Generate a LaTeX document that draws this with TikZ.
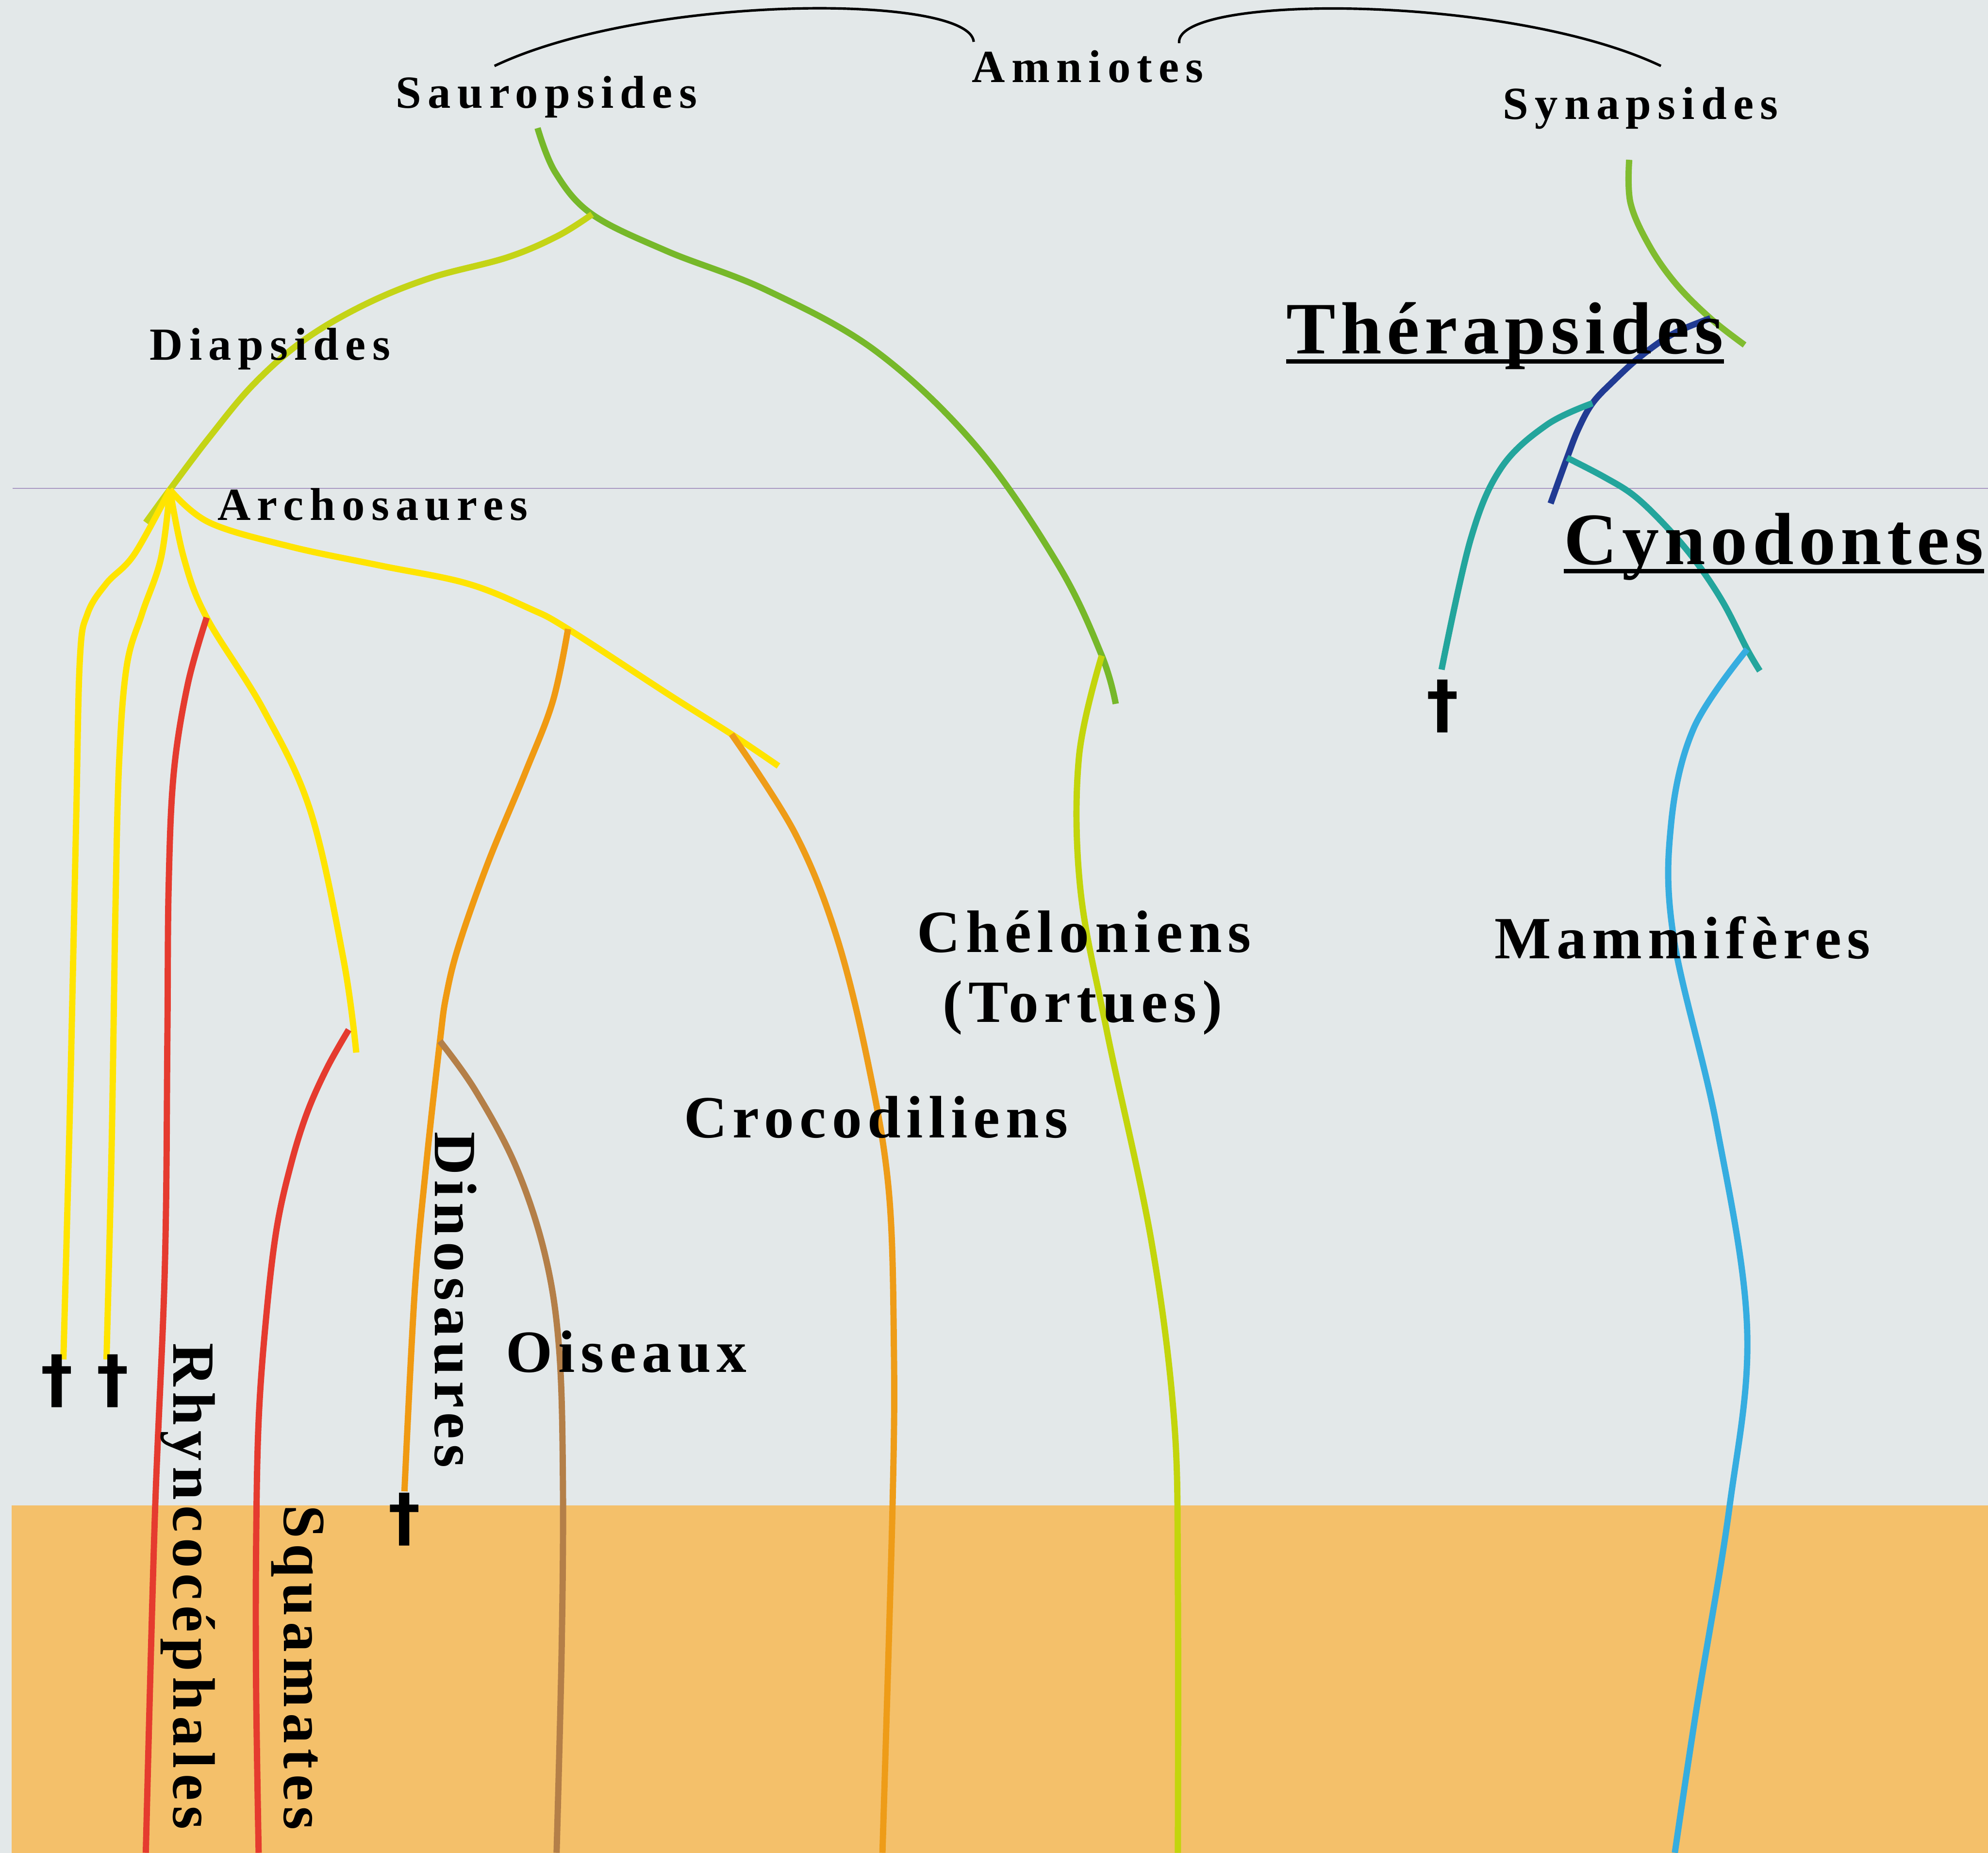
\documentclass[tikz,border=0pt]{standalone}
\usepackage{fontspec}
\setmainfont{Liberation Serif}
\newfontfamily\cladefont[LetterSpace = 14]{Liberation Serif}
\newfontfamily\groupfont[LetterSpace = 9.5]{Liberation Serif}
\newfontfamily\bigcladefont[LetterSpace = 7]{Liberation Serif}
\newfontfamily\crossfont{DejaVu Sans}

\definecolor{paper}{HTML}{E3E8E9}
\definecolor{band}{HTML}{F4C06A}
\definecolor{rule}{HTML}{A998C2}
\definecolor{sauroGreen}{HTML}{76B82A}
\definecolor{diapGreen}{HTML}{C4D416}
\definecolor{archYellow}{HTML}{FFE400}
\definecolor{rhyRed}{HTML}{E53B2F}
\definecolor{dinoOrange}{HTML}{F09A12}
\definecolor{birdBrown}{HTML}{B47F48}
\definecolor{crocOrange}{HTML}{EE9C18}
\definecolor{cheloGreen}{HTML}{C3D50C}
\definecolor{synGreen}{HTML}{80BC30}
\definecolor{theraNavy}{HTML}{213B93}
\definecolor{cynoTeal}{HTML}{23A59C}
\definecolor{mammBlue}{HTML}{36ADE0}

\tikzset{
    lineage/.style = {line width = 4.5pt, smooth, tension = 0.6},
    clade/.style = {font = \cladefont\bfseries\fontsize{33}{40}\selectfont, inner sep = 0pt, anchor = base},
    group/.style = {font = \groupfont\bfseries\fontsize{43}{50}\selectfont, inner sep = 0pt, anchor = base},
    bigclade/.style = {font = \bigcladefont\bfseries\fontsize{53}{60}\selectfont, inner sep = 0pt, anchor = base},
    extinct/.style = {font = \crossfont\bfseries\fontsize{46}{54}\selectfont, inner sep = 0pt},
    underbar/.style = {line width = 3.1pt},
    bracket/.style = {line width = 1.8pt}
}

\begin{document}
\begin{tikzpicture}[x = 0.032cm, y = -0.032cm]
    \useasboundingbox (0, 0) rectangle (1568, 1461);
    \fill [paper] (0, 0) rectangle (1568, 1461);
    \fill [band] (9, 1187) rectangle (1568, 1461);
    \draw [rule, line width = 0.8pt] (10, 385) -- (1568, 385);

    % branch points
    \coordinate (sau) at (424, 101);
    \coordinate (dia) at (467, 169);
    \coordinate (che) at (869, 517);
    \coordinate (arc) at (134, 386);
    \coordinate (rhy) at (163, 487);
    \coordinate (squ) at (275, 812);
    \coordinate (din) at (448, 496);
    \coordinate (cro) at (577, 579);
    \coordinate (ois) at (347, 821);
    \coordinate (syn) at (1285, 126);
    \coordinate (the) at (1349, 251);
    \coordinate (tle) at (1256, 318);
    \coordinate (cyn) at (1236, 361);
    \coordinate (mam) at (1378, 512);

    % sauropsides
    \draw [lineage, sauroGreen] plot coordinates {(sau) (438, 136) (dia) (526, 198) (605, 229) (691, 277) (770, 352) (835, 446) (che) (880, 555)};
    \draw [lineage, diapGreen] plot coordinates {(dia) (440, 186) (400, 203) (340, 219) (288, 240) (240, 268) (200, 303) (165, 345) (arc) (115, 412)};
    \draw [lineage, cheloGreen] plot coordinates {(che) (851, 597) (852, 700) (873, 813) (908, 978) (926, 1119) (929, 1250) (929, 1461)};

    % archosaures
    \draw [lineage, archYellow] plot coordinates {(arc) (106, 437) (84, 460) (69, 484) (63, 520) (60, 650) (55, 880) (50, 1072)};
    \draw [lineage, archYellow] plot coordinates {(arc) (127, 440) (112, 484) (100, 525) (94, 600) (91, 720) (88, 907) (84, 1072)};
    \draw [lineage, archYellow] plot coordinates {(arc) (145, 440) (rhy) (208, 560) (245, 640) (271, 757) (281, 830)};
    \draw [lineage, archYellow] plot coordinates {(arc) (165, 412) (229, 431) (300, 446) (368, 460) (418, 480) (din) (528, 548) (cro) (614, 604)};
    \draw [lineage, rhyRed] plot coordinates {(rhy) (148, 540) (137, 610) (133, 700) (132, 820) (130, 1000) (122, 1200) (115, 1461)};
    \draw [lineage, rhyRed] plot coordinates {(squ) (258, 842) (242, 878) (229, 920) (218, 970) (210, 1038) (204, 1120) (202, 1220) (202, 1330) (204, 1461)};
    \draw [lineage, dinoOrange] plot coordinates {(din) (436, 553) (414, 610) (385, 680) (362, 745) (352, 785) (ois) (336, 920) (327, 1020) (319, 1176)};
    \draw [lineage, birdBrown] plot coordinates {(ois) (375, 860) (407, 920) (430, 990) (441, 1064) (444, 1170) (443, 1300) (439, 1461)};
    \draw [lineage, crocOrange] plot coordinates {(cro) (627, 657) (660, 739) (685, 840) (701, 939) (705, 1060) (704, 1186) (696, 1461)};

    % synapsides
    \draw [lineage, synGreen] plot coordinates {(syn) (1286, 160) (1301, 194) (1322, 224) (the) (1376, 272)};
    \draw [lineage, theraNavy] plot coordinates {(the) (1320, 263) (1294, 281) (1272, 301) (tle) (1245, 338) (cyn) (1223, 397)};
    \draw [lineage, cynoTeal] plot coordinates {(tle) (1220, 335) (1184, 369) (1160, 425) (1137, 528)};
    \draw [lineage, cynoTeal] plot coordinates {(cyn) (1265, 376) (1289, 391) (1314, 415) (1337, 442) (1359, 475) (mam) (1388, 529)};
    \draw [lineage, mammBlue] plot coordinates {(mam) (1336, 574) (1318, 650) (1320, 739) (1354, 888) (1378, 1048) (1364, 1189) (1338, 1348) (1321, 1461)};

    % extinct lines
    \node [extinct] (x1) at (45, 1089) {†};
    \node [extinct] (x2) at (89, 1089) {†};
    \node [extinct] (x3) at (319, 1198) {†};
    \node [extinct] (x4) at (1138, 557) {†};

    % labels
    \node [clade] (amn) at (858, 65) {Amniotes};
    \node [clade] (saur) at (431, 85) {Sauropsides};
    \node [clade] (syna) at (1294, 94) {Synapsides};
    \node [clade] (diap) at (213, 284) {Diapsides};
    \node [clade] (arch) at (294, 410) {Archosaures};
    \node [bigclade] (ther) at (1187, 279) {Thérapsides};
    \node [bigclade] (cyno) at (1399, 445) {Cynodontes};
    \draw [underbar] ([yshift = -5.6pt] ther.base west) -- ([yshift = -5.6pt] ther.base east);
    \draw [underbar] ([yshift = -5pt] cyno.base west) -- ([yshift = -5pt] cyno.base east);
    \node [group] (chel) at (855, 751) {Chéloniens};
    \node [group] (tort) at (854, 806) {(Tortues)};
    \node [group] (mamm) at (1327, 756) {Mammifères};
    \node [group] (croc) at (691, 897) {Crocodiliens};
    \node [group] (oise) at (494, 1082) {Oiseaux};
    \node [group, rotate = -90] (dino) at (343, 1025) {Dinosaures};
    \node [group, rotate = -90] (rhyn) at (137, 1251) {Rhyncocéphales};
    \node [group, rotate = -90] (squa) at (224, 1315) {Squamates};

    % amniote brackets
    \coordinate (sauTip) at (390, 52);
    \coordinate (amnLeft) at (768, 33);
    \coordinate (amnRight) at (930, 34);
    \coordinate (synTip) at (1310, 52);
    \draw [bracket] (sauTip) .. controls (510, -5) and (765, -5) .. (amnLeft);
    \draw [bracket] (amnRight) .. controls (926, -5) and (1190, -5) .. (synTip);
\end{tikzpicture}
\end{document}
